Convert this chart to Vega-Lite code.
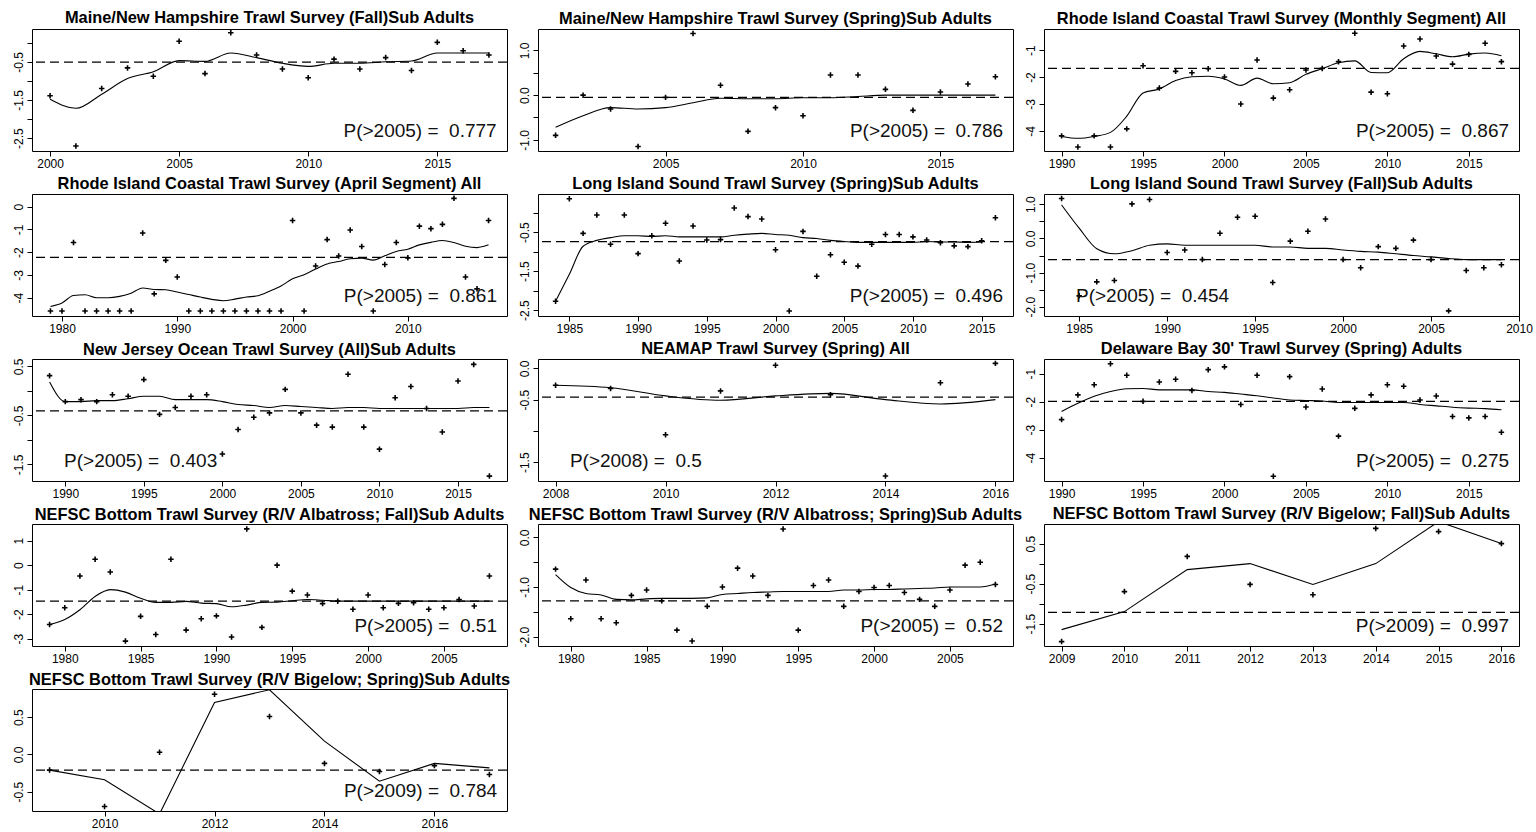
{
"$schema": "https://vega.github.io/schema/vega-lite/v6.json",
"background": "white",
"padding": {"left": 11, "top": 9, "right": 5, "bottom": 5},
"columns": 3,
"spacing": {"row": 43, "column": 31},
"bounds": "flush",
"datasets": {
"obs": [
{"p":1,"yr":2000,"o":-1.39,"f":-1.48},{"p":1,"yr":2001,"o":-2.71,"f":-1.72},{"p":1,"yr":2002,"o":-1.20,"f":-1.35},{"p":1,"yr":2003,"o":-0.66,"f":-0.94},{"p":1,"yr":2004,"o":-0.88,"f":-0.76},{"p":1,"yr":2005,"o":0.04,"f":-0.47},{"p":1,"yr":2006,"o":-0.81,"f":-0.49},{"p":1,"yr":2007,"o":0.26,"f":-0.27},{"p":1,"yr":2008,"o":-0.32,"f":-0.39},{"p":1,"yr":2009,"o":-0.69,"f":-0.54},{"p":1,"yr":2010,"o":-0.92,"f":-0.62},{"p":1,"yr":2011,"o":-0.43,"f":-0.54},{"p":1,"yr":2012,"o":-0.69,"f":-0.54},{"p":1,"yr":2013,"o":-0.39,"f":-0.50},{"p":1,"yr":2014,"o":-0.73,"f":-0.48},{"p":1,"yr":2015,"o":0.01,"f":-0.27},{"p":1,"yr":2016,"o":-0.21,"f":-0.27},{"p":1,"yr":2017,"o":-0.32,"f":-0.27},
{"p":2,"yr":2001,"o":-0.90,"f":-0.72},{"p":2,"yr":2002,"o":0.00,"f":-0.46},{"p":2,"yr":2003,"o":-0.31,"f":-0.28},{"p":2,"yr":2004,"o":-1.15,"f":-0.31},{"p":2,"yr":2005,"o":-0.05,"f":-0.28},{"p":2,"yr":2006,"o":1.38,"f":-0.17},{"p":2,"yr":2007,"o":0.22,"f":-0.07},{"p":2,"yr":2008,"o":-0.81,"f":-0.08},{"p":2,"yr":2009,"o":-0.28,"f":-0.08},{"p":2,"yr":2010,"o":-0.46,"f":-0.06},{"p":2,"yr":2011,"o":0.45,"f":-0.06},{"p":2,"yr":2012,"o":0.45,"f":-0.03},{"p":2,"yr":2013,"o":0.13,"f":0.0},{"p":2,"yr":2014,"o":-0.34,"f":0.0},{"p":2,"yr":2015,"o":0.07,"f":0.0},{"p":2,"yr":2016,"o":0.25,"f":0.0},{"p":2,"yr":2017,"o":0.41,"f":0.0},
{"p":3,"yr":1990,"o":-4.18,"f":-4.20},{"p":3,"yr":1991,"o":-4.59,"f":-4.27},{"p":3,"yr":1992,"o":-4.18,"f":-4.20},{"p":3,"yr":1993,"o":-4.59,"f":-4.05},{"p":3,"yr":1994,"o":-3.92,"f":-3.45},{"p":3,"yr":1995,"o":-1.58,"f":-2.59},{"p":3,"yr":1996,"o":-2.41,"f":-2.44},{"p":3,"yr":1997,"o":-1.79,"f":-2.13},{"p":3,"yr":1998,"o":-1.84,"f":-1.99},{"p":3,"yr":1999,"o":-1.69,"f":-1.97},{"p":3,"yr":2000,"o":-2.00,"f":-2.07},{"p":3,"yr":2001,"o":-3.00,"f":-2.31},{"p":3,"yr":2002,"o":-1.37,"f":-2.04},{"p":3,"yr":2003,"o":-2.78,"f":-2.25},{"p":3,"yr":2004,"o":-2.47,"f":-2.21},{"p":3,"yr":2005,"o":-1.74,"f":-1.90},{"p":3,"yr":2006,"o":-1.68,"f":-1.69},{"p":3,"yr":2007,"o":-1.43,"f":-1.47},{"p":3,"yr":2008,"o":-0.38,"f":-1.40},{"p":3,"yr":2009,"o":-2.56,"f":-1.83},{"p":3,"yr":2010,"o":-2.62,"f":-1.84},{"p":3,"yr":2011,"o":-0.85,"f":-1.32},{"p":3,"yr":2012,"o":-0.59,"f":-1.05},{"p":3,"yr":2013,"o":-1.22,"f":-1.14},{"p":3,"yr":2014,"o":-1.52,"f":-1.25},{"p":3,"yr":2015,"o":-1.16,"f":-1.15},{"p":3,"yr":2016,"o":-0.75,"f":-1.11},{"p":3,"yr":2017,"o":-1.43,"f":-1.21},
{"p":4,"yr":1979,"o":-4.58,"f":-4.38},{"p":4,"yr":1980,"o":-4.58,"f":-4.23},{"p":4,"yr":1981,"o":-1.58,"f":-3.90},{"p":4,"yr":1982,"o":-4.58,"f":-3.87},{"p":4,"yr":1983,"o":-4.58,"f":-4.00},{"p":4,"yr":1984,"o":-4.58,"f":-4.00},{"p":4,"yr":1985,"o":-4.58,"f":-3.94},{"p":4,"yr":1986,"o":-4.58,"f":-3.80},{"p":4,"yr":1987,"o":-1.16,"f":-3.57},{"p":4,"yr":1988,"o":-3.83,"f":-3.64},{"p":4,"yr":1989,"o":-2.36,"f":-3.65},{"p":4,"yr":1990,"o":-3.09,"f":-3.75},{"p":4,"yr":1991,"o":-4.58,"f":-3.86},{"p":4,"yr":1992,"o":-4.58,"f":-3.97},{"p":4,"yr":1993,"o":-4.58,"f":-4.07},{"p":4,"yr":1994,"o":-4.58,"f":-4.13},{"p":4,"yr":1995,"o":-4.58,"f":-4.06},{"p":4,"yr":1996,"o":-4.58,"f":-3.97},{"p":4,"yr":1997,"o":-4.58,"f":-3.91},{"p":4,"yr":1998,"o":-4.58,"f":-3.71},{"p":4,"yr":1999,"o":-4.58,"f":-3.48},{"p":4,"yr":2000,"o":-0.61,"f":-3.17},{"p":4,"yr":2001,"o":-4.58,"f":-2.99},{"p":4,"yr":2002,"o":-2.61,"f":-2.74},{"p":4,"yr":2003,"o":-1.45,"f":-2.52},{"p":4,"yr":2004,"o":-2.17,"f":-2.41},{"p":4,"yr":2005,"o":-1.03,"f":-2.29},{"p":4,"yr":2006,"o":-1.75,"f":-2.26},{"p":4,"yr":2007,"o":-4.58,"f":-2.35},{"p":4,"yr":2008,"o":-2.54,"f":-2.16},{"p":4,"yr":2009,"o":-1.58,"f":-1.97},{"p":4,"yr":2010,"o":-2.25,"f":-1.87},{"p":4,"yr":2011,"o":-0.86,"f":-1.68},{"p":4,"yr":2012,"o":-0.97,"f":-1.57},{"p":4,"yr":2013,"o":-0.78,"f":-1.49},{"p":4,"yr":2014,"o":0.36,"f":-1.58},{"p":4,"yr":2015,"o":-3.09,"f":-1.74},{"p":4,"yr":2016,"o":-3.61,"f":-1.80},{"p":4,"yr":2017,"o":-0.61,"f":-1.68},
{"p":5,"yr":1984,"o":-2.27,"f":-2.27},{"p":5,"yr":1985,"o":0.36,"f":-1.58},{"p":5,"yr":1986,"o":-0.53,"f":-0.86},{"p":5,"yr":1987,"o":-0.06,"f":-0.71},{"p":5,"yr":1988,"o":-0.81,"f":-0.64},{"p":5,"yr":1989,"o":-0.06,"f":-0.59},{"p":5,"yr":1990,"o":-1.05,"f":-0.59},{"p":5,"yr":1991,"o":-0.59,"f":-0.61},{"p":5,"yr":1992,"o":-0.27,"f":-0.59},{"p":5,"yr":1993,"o":-1.24,"f":-0.62},{"p":5,"yr":1994,"o":-0.34,"f":-0.62},{"p":5,"yr":1995,"o":-0.70,"f":-0.62},{"p":5,"yr":1996,"o":-0.69,"f":-0.62},{"p":5,"yr":1997,"o":0.12,"f":-0.58},{"p":5,"yr":1998,"o":-0.10,"f":-0.55},{"p":5,"yr":1999,"o":-0.16,"f":-0.53},{"p":5,"yr":2000,"o":-0.95,"f":-0.56},{"p":5,"yr":2001,"o":-2.52,"f":-0.58},{"p":5,"yr":2002,"o":-0.48,"f":-0.64},{"p":5,"yr":2003,"o":-1.63,"f":-0.66},{"p":5,"yr":2004,"o":-1.08,"f":-0.71},{"p":5,"yr":2005,"o":-1.27,"f":-0.74},{"p":5,"yr":2006,"o":-1.37,"f":-0.76},{"p":5,"yr":2007,"o":-0.81,"f":-0.76},{"p":5,"yr":2008,"o":-0.56,"f":-0.76},{"p":5,"yr":2009,"o":-0.56,"f":-0.76},{"p":5,"yr":2010,"o":-0.62,"f":-0.76},{"p":5,"yr":2011,"o":-0.70,"f":-0.74},{"p":5,"yr":2012,"o":-0.77,"f":-0.75},{"p":5,"yr":2013,"o":-0.85,"f":-0.75},{"p":5,"yr":2014,"o":-0.87,"f":-0.76},{"p":5,"yr":2015,"o":-0.72,"f":-0.75},{"p":5,"yr":2016,"o":-0.13,"f":null},
{"p":6,"yr":1984,"o":1.17,"f":0.98},{"p":6,"yr":1985,"o":-1.68,"f":0.30},{"p":6,"yr":1986,"o":-1.27,"f":-0.30},{"p":6,"yr":1987,"o":-1.23,"f":-0.45},{"p":6,"yr":1988,"o":1.01,"f":-0.36},{"p":6,"yr":1989,"o":1.14,"f":-0.20},{"p":6,"yr":1990,"o":-0.41,"f":-0.16},{"p":6,"yr":1991,"o":-0.34,"f":-0.20},{"p":6,"yr":1992,"o":-0.62,"f":-0.20},{"p":6,"yr":1993,"o":0.15,"f":-0.20},{"p":6,"yr":1994,"o":0.62,"f":-0.20},{"p":6,"yr":1995,"o":0.65,"f":-0.20},{"p":6,"yr":1996,"o":-1.29,"f":-0.25},{"p":6,"yr":1997,"o":-0.08,"f":-0.25},{"p":6,"yr":1998,"o":0.21,"f":-0.29},{"p":6,"yr":1999,"o":0.57,"f":-0.29},{"p":6,"yr":2000,"o":-0.62,"f":-0.34},{"p":6,"yr":2001,"o":-0.86,"f":-0.38},{"p":6,"yr":2002,"o":-0.24,"f":-0.40},{"p":6,"yr":2003,"o":-0.29,"f":-0.45},{"p":6,"yr":2004,"o":-0.05,"f":-0.50},{"p":6,"yr":2005,"o":-0.62,"f":-0.54},{"p":6,"yr":2006,"o":-2.12,"f":-0.59},{"p":6,"yr":2007,"o":-0.94,"f":-0.62},{"p":6,"yr":2008,"o":-0.86,"f":-0.62},{"p":6,"yr":2009,"o":-0.77,"f":-0.62},
{"p":7,"yr":1989,"o":0.31,"f":0.18},{"p":7,"yr":1990,"o":-0.22,"f":-0.22},{"p":7,"yr":1991,"o":-0.18,"f":-0.22},{"p":7,"yr":1992,"o":-0.22,"f":-0.20},{"p":7,"yr":1993,"o":-0.08,"f":-0.20},{"p":7,"yr":1994,"o":-0.11,"f":-0.16},{"p":7,"yr":1995,"o":0.23,"f":-0.11},{"p":7,"yr":1996,"o":-0.48,"f":-0.11},{"p":7,"yr":1997,"o":-0.34,"f":-0.18},{"p":7,"yr":1998,"o":-0.11,"f":-0.18},{"p":7,"yr":1999,"o":-0.08,"f":-0.18},{"p":7,"yr":2000,"o":-1.29,"f":-0.22},{"p":7,"yr":2001,"o":-0.79,"f":-0.28},{"p":7,"yr":2002,"o":-0.54,"f":-0.30},{"p":7,"yr":2003,"o":-0.45,"f":-0.34},{"p":7,"yr":2004,"o":0.03,"f":-0.30},{"p":7,"yr":2005,"o":-0.45,"f":-0.32},{"p":7,"yr":2006,"o":-0.70,"f":-0.34},{"p":7,"yr":2007,"o":-0.74,"f":-0.36},{"p":7,"yr":2008,"o":0.34,"f":-0.34},{"p":7,"yr":2009,"o":-0.74,"f":-0.34},{"p":7,"yr":2010,"o":-1.19,"f":-0.36},{"p":7,"yr":2011,"o":-0.14,"f":-0.36},{"p":7,"yr":2012,"o":0.09,"f":-0.36},{"p":7,"yr":2013,"o":-0.36,"f":-0.36},{"p":7,"yr":2014,"o":-0.84,"f":-0.36},{"p":7,"yr":2015,"o":0.20,"f":-0.36},{"p":7,"yr":2016,"o":0.54,"f":-0.34},{"p":7,"yr":2017,"o":-1.74,"f":-0.34},
{"p":8,"yr":2008,"o":-0.27,"f":-0.27},{"p":8,"yr":2009,"o":-0.32,"f":-0.31},{"p":8,"yr":2010,"o":-1.06,"f":-0.44},{"p":8,"yr":2011,"o":-0.36,"f":-0.51},{"p":8,"yr":2012,"o":0.05,"f":-0.44},{"p":8,"yr":2013,"o":-0.42,"f":-0.40},{"p":8,"yr":2014,"o":-1.72,"f":-0.50},{"p":8,"yr":2015,"o":-0.23,"f":-0.57},{"p":8,"yr":2016,"o":0.08,"f":-0.50},
{"p":9,"yr":1990,"o":-2.64,"f":-2.35},{"p":9,"yr":1991,"o":-1.76,"f":-2.06},{"p":9,"yr":1992,"o":-1.40,"f":-1.81},{"p":9,"yr":1993,"o":-0.65,"f":-1.64},{"p":9,"yr":1994,"o":-1.06,"f":-1.54},{"p":9,"yr":1995,"o":-1.99,"f":-1.53},{"p":9,"yr":1996,"o":-1.30,"f":-1.58},{"p":9,"yr":1997,"o":-1.20,"f":-1.58},{"p":9,"yr":1998,"o":-1.60,"f":-1.58},{"p":9,"yr":1999,"o":-0.86,"f":-1.64},{"p":9,"yr":2000,"o":-0.76,"f":-1.67},{"p":9,"yr":2001,"o":-2.10,"f":-1.73},{"p":9,"yr":2002,"o":-1.06,"f":-1.79},{"p":9,"yr":2003,"o":-4.66,"f":-1.87},{"p":9,"yr":2004,"o":-1.11,"f":-1.94},{"p":9,"yr":2005,"o":-2.19,"f":-1.96},{"p":9,"yr":2006,"o":-1.55,"f":-1.98},{"p":9,"yr":2007,"o":-3.23,"f":-2.03},{"p":9,"yr":2008,"o":-2.24,"f":-2.03},{"p":9,"yr":2009,"o":-1.76,"f":-2.03},{"p":9,"yr":2010,"o":-1.40,"f":-2.03},{"p":9,"yr":2011,"o":-1.45,"f":-2.03},{"p":9,"yr":2012,"o":-1.94,"f":-2.10},{"p":9,"yr":2013,"o":-1.80,"f":-2.15},{"p":9,"yr":2014,"o":-2.53,"f":-2.20},{"p":9,"yr":2015,"o":-2.58,"f":-2.23},{"p":9,"yr":2016,"o":-2.53,"f":-2.25},{"p":9,"yr":2017,"o":-3.09,"f":-2.29},
{"p":10,"yr":1979,"o":-2.42,"f":-2.42},{"p":10,"yr":1980,"o":-1.74,"f":-2.22},{"p":10,"yr":1981,"o":-0.44,"f":-1.82},{"p":10,"yr":1982,"o":0.24,"f":-1.28},{"p":10,"yr":1983,"o":-0.28,"f":-1.00},{"p":10,"yr":1984,"o":-3.10,"f":-1.10},{"p":10,"yr":1985,"o":-2.09,"f":-1.35},{"p":10,"yr":1986,"o":-2.83,"f":-1.52},{"p":10,"yr":1987,"o":0.24,"f":-1.52},{"p":10,"yr":1988,"o":-2.65,"f":-1.48},{"p":10,"yr":1989,"o":-2.19,"f":-1.55},{"p":10,"yr":1990,"o":-2.07,"f":-1.57},{"p":10,"yr":1991,"o":-2.93,"f":-1.70},{"p":10,"yr":1992,"o":1.48,"f":-1.63},{"p":10,"yr":1993,"o":-2.54,"f":-1.52},{"p":10,"yr":1994,"o":0.00,"f":-1.51},{"p":10,"yr":1995,"o":-1.06,"f":-1.45},{"p":10,"yr":1996,"o":-1.22,"f":-1.40},{"p":10,"yr":1997,"o":-1.57,"f":-1.43},{"p":10,"yr":1998,"o":-1.47,"f":-1.47},{"p":10,"yr":1999,"o":-1.80,"f":-1.47},{"p":10,"yr":2000,"o":-1.22,"f":-1.47},{"p":10,"yr":2001,"o":-1.74,"f":-1.47},{"p":10,"yr":2002,"o":-1.56,"f":-1.47},{"p":10,"yr":2003,"o":-1.53,"f":-1.47},{"p":10,"yr":2004,"o":-1.80,"f":-1.47},{"p":10,"yr":2005,"o":-1.74,"f":-1.47},{"p":10,"yr":2006,"o":-1.40,"f":-1.47},{"p":10,"yr":2007,"o":-1.67,"f":-1.47},{"p":10,"yr":2008,"o":-0.44,"f":-1.47},
{"p":11,"yr":1979,"o":-0.64,"f":-0.75},{"p":11,"yr":1980,"o":-1.64,"f":-1.01},{"p":11,"yr":1981,"o":-0.86,"f":-1.13},{"p":11,"yr":1982,"o":-1.64,"f":-1.16},{"p":11,"yr":1983,"o":-1.72,"f":-1.25},{"p":11,"yr":1984,"o":-1.17,"f":-1.26},{"p":11,"yr":1985,"o":-1.06,"f":-1.24},{"p":11,"yr":1986,"o":-1.28,"f":-1.23},{"p":11,"yr":1987,"o":-1.87,"f":-1.23},{"p":11,"yr":1988,"o":-2.09,"f":-1.23},{"p":11,"yr":1989,"o":-1.39,"f":-1.22},{"p":11,"yr":1990,"o":-1.00,"f":-1.15},{"p":11,"yr":1991,"o":-0.62,"f":-1.13},{"p":11,"yr":1992,"o":-0.78,"f":-1.11},{"p":11,"yr":1993,"o":-1.17,"f":-1.10},{"p":11,"yr":1994,"o":0.17,"f":-1.09},{"p":11,"yr":1995,"o":-1.87,"f":-1.09},{"p":11,"yr":1996,"o":-0.97,"f":-1.09},{"p":11,"yr":1997,"o":-0.86,"f":-1.09},{"p":11,"yr":1998,"o":-1.39,"f":-1.06},{"p":11,"yr":1999,"o":-1.09,"f":-1.06},{"p":11,"yr":2000,"o":-1.01,"f":-1.05},{"p":11,"yr":2001,"o":-0.97,"f":-1.05},{"p":11,"yr":2002,"o":-1.11,"f":-1.04},{"p":11,"yr":2003,"o":-1.25,"f":-1.03},{"p":11,"yr":2004,"o":-1.39,"f":-1.02},{"p":11,"yr":2005,"o":-1.06,"f":-1.00},{"p":11,"yr":2006,"o":-0.56,"f":-1.00},{"p":11,"yr":2007,"o":-0.50,"f":-1.00},{"p":11,"yr":2008,"o":-0.95,"f":-0.94},
{"p":12,"yr":2009,"o":-1.95,"f":-1.65},{"p":12,"yr":2010,"o":-0.70,"f":-1.20},{"p":12,"yr":2011,"o":0.18,"f":-0.15},{"p":12,"yr":2012,"o":-0.52,"f":0.0},{"p":12,"yr":2013,"o":-0.78,"f":-0.52},{"p":12,"yr":2014,"o":0.88,"f":0.0},{"p":12,"yr":2015,"o":0.80,"f":1.05},{"p":12,"yr":2016,"o":0.50,"f":0.50},
{"p":13,"yr":2009,"o":-0.21,"f":-0.21},{"p":13,"yr":2010,"o":-0.70,"f":-0.34},{"p":13,"yr":2011,"o":0.03,"f":-0.80},{"p":13,"yr":2012,"o":0.81,"f":0.70},{"p":13,"yr":2013,"o":0.51,"f":0.87},{"p":13,"yr":2014,"o":-0.12,"f":0.18},{"p":13,"yr":2015,"o":-0.23,"f":-0.36},{"p":13,"yr":2016,"o":-0.15,"f":-0.12},{"p":13,"yr":2017,"o":-0.27,"f":-0.18}
],
"ref": [
{"p":1,"h":-0.51,"note":"P(>2005) =\u00a0 0.777"},
{"p":2,"h":-0.05,"note":"P(>2005) =\u00a0 0.786"},
{"p":3,"h":-1.68,"note":"P(>2005) =\u00a0 0.867"},
{"p":4,"h":-2.23,"note":"P(>2005) =\u00a0 0.861"},
{"p":5,"h":-0.74,"note":"P(>2005) =\u00a0 0.496"},
{"p":6,"h":-0.62,"note":"P(>2005) =\u00a0 0.454"},
{"p":7,"h":-0.41,"note":"P(>2005) =\u00a0 0.403"},
{"p":8,"h":-0.46,"note":"P(>2008) =\u00a0 0.5"},
{"p":9,"h":-1.99,"note":"P(>2005) =\u00a0 0.275"},
{"p":10,"h":-1.47,"note":"P(>2005) =\u00a0 0.51"},
{"p":11,"h":-1.28,"note":"P(>2005) =\u00a0 0.52"},
{"p":12,"h":-1.22,"note":"P(>2009) =\u00a0 0.997"},
{"p":13,"h":-0.21,"note":"P(>2009) =\u00a0 0.784"}
]
},
"concat": [
{"title":"Maine/New Hampshire Trawl Survey (Fall)Sub Adults","width":475,"height":122,"layer":[
{"data":{"name":"obs"},"transform":[{"filter":"datum.p==1"}],"mark":{"type":"line","clip":true,"color":"#000","strokeWidth":1.1,"interpolate":"monotone"},
"encoding":{"x":{"field":"yr","type":"quantitative","title":null,"scale":{"domain":[1999.3,2017.7],"nice":false,"zero":false},"axis":{"values":[2000,2005,2010,2015],"tickCount":30,"format":"d","labelOverlap":false}},
"y":{"field":"f","type":"quantitative","title":null,"scale":{"domain":[-2.84,0.36],"nice":false,"zero":false},"axis":{"values":[-2.5,-2,-1.5,-1,-0.5,0],"tickCount":30,"format":".1f","labelOverlap":false,"labelExpr":"indexof([-0.5,-1.5,-2.5], datum.value) >= 0 ? replace(datum.label, '−', '-') : ''"}}}},
{"data":{"name":"obs"},"transform":[{"filter":"datum.p==1"}],"mark":{"type":"point","shape":"M-1,0H1M0,-1V1","size":30,"filled":false,"color":"#000","strokeWidth":1.6,"opacity":1},
"encoding":{"x":{"field":"yr","type":"quantitative","title":null,"scale":{"domain":[1999.3,2017.7],"nice":false,"zero":false}},"y":{"field":"o","type":"quantitative","title":null,"scale":{"domain":[-2.84,0.36],"nice":false,"zero":false}}}},
{"data":{"name":"ref"},"transform":[{"filter":"datum.p==1"}],"mark":{"type":"rule","strokeDash":[9,5],"strokeWidth":1.3,"color":"#000"},
"encoding":{"y":{"field":"h","type":"quantitative","title":null,"scale":{"domain":[-2.84,0.36],"nice":false,"zero":false}}}},
{"data":{"name":"ref"},"transform":[{"filter":"datum.p==1"}],"mark":{"type":"text","align":"right","baseline":"alphabetic","fontSize":19,"font":"Liberation Sans","color":"#111"},
"encoding":{"x":{"datum":2017.3,"type":"quantitative","title":null,"scale":{"domain":[1999.3,2017.7],"nice":false,"zero":false}},"y":{"datum":-2.47,"type":"quantitative","title":null,"scale":{"domain":[-2.84,0.36],"nice":false,"zero":false}},"text":{"field":"note"}}}
]},
{"title":"Maine/New Hampshire Trawl Survey (Spring)Sub Adults","width":475,"height":122,"layer":[
{"data":{"name":"obs"},"transform":[{"filter":"datum.p==2"}],"mark":{"type":"line","clip":true,"color":"#000","strokeWidth":1.1,"interpolate":"monotone"},
"encoding":{"x":{"field":"yr","type":"quantitative","title":null,"scale":{"domain":[2000.36,2017.64],"nice":false,"zero":false},"axis":{"values":[2005,2010,2015],"tickCount":30,"format":"d","labelOverlap":false}},
"y":{"field":"f","type":"quantitative","title":null,"scale":{"domain":[-1.25,1.48],"nice":false,"zero":false},"axis":{"values":[-1,-0.5,0,0.5,1],"tickCount":30,"format":".1f","labelOverlap":false,"labelExpr":"indexof([-1,0,1], datum.value) >= 0 ? replace(datum.label, '−', '-') : ''"}}}},
{"data":{"name":"obs"},"transform":[{"filter":"datum.p==2"}],"mark":{"type":"point","shape":"M-1,0H1M0,-1V1","size":30,"filled":false,"color":"#000","strokeWidth":1.6,"opacity":1},
"encoding":{"x":{"field":"yr","type":"quantitative","title":null,"scale":{"domain":[2000.36,2017.64],"nice":false,"zero":false}},"y":{"field":"o","type":"quantitative","title":null,"scale":{"domain":[-1.25,1.48],"nice":false,"zero":false}}}},
{"data":{"name":"ref"},"transform":[{"filter":"datum.p==2"}],"mark":{"type":"rule","strokeDash":[9,5],"strokeWidth":1.3,"color":"#000"},
"encoding":{"y":{"field":"h","type":"quantitative","title":null,"scale":{"domain":[-1.25,1.48],"nice":false,"zero":false}}}},
{"data":{"name":"ref"},"transform":[{"filter":"datum.p==2"}],"mark":{"type":"text","align":"right","baseline":"alphabetic","fontSize":19,"font":"Liberation Sans","color":"#111"},
"encoding":{"x":{"datum":2017.28,"type":"quantitative","title":null,"scale":{"domain":[2000.36,2017.64],"nice":false,"zero":false}},"y":{"datum":-0.94,"type":"quantitative","title":null,"scale":{"domain":[-1.25,1.48],"nice":false,"zero":false}},"text":{"field":"note"}}}
]},
{"title":"Rhode Island Coastal Trawl Survey (Monthly Segment) All","width":475,"height":122,"layer":[
{"data":{"name":"obs"},"transform":[{"filter":"datum.p==3"}],"mark":{"type":"line","clip":true,"color":"#000","strokeWidth":1.1,"interpolate":"monotone"},
"encoding":{"x":{"field":"yr","type":"quantitative","title":null,"scale":{"domain":[1988.92,2018.08],"nice":false,"zero":false},"axis":{"values":[1990,1995,2000,2005,2010,2015],"tickCount":30,"format":"d","labelOverlap":false}},
"y":{"field":"f","type":"quantitative","title":null,"scale":{"domain":[-4.74,-0.22],"nice":false,"zero":false},"axis":{"values":[-4,-3,-2,-1],"tickCount":30,"format":"d","labelOverlap":false,"labelExpr":"replace(datum.label, '−', '-')"}}}},
{"data":{"name":"obs"},"transform":[{"filter":"datum.p==3"}],"mark":{"type":"point","shape":"M-1,0H1M0,-1V1","size":30,"filled":false,"color":"#000","strokeWidth":1.6,"opacity":1},
"encoding":{"x":{"field":"yr","type":"quantitative","title":null,"scale":{"domain":[1988.92,2018.08],"nice":false,"zero":false}},"y":{"field":"o","type":"quantitative","title":null,"scale":{"domain":[-4.74,-0.22],"nice":false,"zero":false}}}},
{"data":{"name":"ref"},"transform":[{"filter":"datum.p==3"}],"mark":{"type":"rule","strokeDash":[9,5],"strokeWidth":1.3,"color":"#000"},
"encoding":{"y":{"field":"h","type":"quantitative","title":null,"scale":{"domain":[-4.74,-0.22],"nice":false,"zero":false}}}},
{"data":{"name":"ref"},"transform":[{"filter":"datum.p==3"}],"mark":{"type":"text","align":"right","baseline":"alphabetic","fontSize":19,"font":"Liberation Sans","color":"#111"},
"encoding":{"x":{"datum":2017.47,"type":"quantitative","title":null,"scale":{"domain":[1988.92,2018.08],"nice":false,"zero":false}},"y":{"datum":-4.22,"type":"quantitative","title":null,"scale":{"domain":[-4.74,-0.22],"nice":false,"zero":false}},"text":{"field":"note"}}}
]},
{"title":"Rhode Island Coastal Trawl Survey (April Segment) All","width":475,"height":122,"layer":[
{"data":{"name":"obs"},"transform":[{"filter":"datum.p==4"}],"mark":{"type":"line","clip":true,"color":"#000","strokeWidth":1.1,"interpolate":"monotone"},
"encoding":{"x":{"field":"yr","type":"quantitative","title":null,"scale":{"domain":[1977.4,2018.6],"nice":false,"zero":false},"axis":{"values":[1980,1990,2000,2010],"tickCount":30,"format":"d","labelOverlap":false}},
"y":{"field":"f","type":"quantitative","title":null,"scale":{"domain":[-4.8,0.55],"nice":false,"zero":false},"axis":{"values":[-4,-3,-2,-1,0],"tickCount":30,"format":"d","labelOverlap":false,"labelExpr":"replace(datum.label, '−', '-')"}}}},
{"data":{"name":"obs"},"transform":[{"filter":"datum.p==4"}],"mark":{"type":"point","shape":"M-1,0H1M0,-1V1","size":30,"filled":false,"color":"#000","strokeWidth":1.6,"opacity":1},
"encoding":{"x":{"field":"yr","type":"quantitative","title":null,"scale":{"domain":[1977.4,2018.6],"nice":false,"zero":false}},"y":{"field":"o","type":"quantitative","title":null,"scale":{"domain":[-4.8,0.55],"nice":false,"zero":false}}}},
{"data":{"name":"ref"},"transform":[{"filter":"datum.p==4"}],"mark":{"type":"rule","strokeDash":[9,5],"strokeWidth":1.3,"color":"#000"},
"encoding":{"y":{"field":"h","type":"quantitative","title":null,"scale":{"domain":[-4.8,0.55],"nice":false,"zero":false}}}},
{"data":{"name":"ref"},"transform":[{"filter":"datum.p==4"}],"mark":{"type":"text","align":"right","baseline":"alphabetic","fontSize":19,"font":"Liberation Sans","color":"#111"},
"encoding":{"x":{"datum":2017.73,"type":"quantitative","title":null,"scale":{"domain":[1977.4,2018.6],"nice":false,"zero":false}},"y":{"datum":-4.19,"type":"quantitative","title":null,"scale":{"domain":[-4.8,0.55],"nice":false,"zero":false}},"text":{"field":"note"}}}
]},
{"title":"Long Island Sound Trawl Survey (Spring)Sub Adults","width":475,"height":122,"layer":[
{"data":{"name":"obs"},"transform":[{"filter":"datum.p==5"}],"mark":{"type":"line","clip":true,"color":"#000","strokeWidth":1.1,"interpolate":"monotone"},
"encoding":{"x":{"field":"yr","type":"quantitative","title":null,"scale":{"domain":[1982.72,2017.28],"nice":false,"zero":false},"axis":{"values":[1985,1990,1995,2000,2005,2010,2015],"tickCount":30,"format":"d","labelOverlap":false}},
"y":{"field":"f","type":"quantitative","title":null,"scale":{"domain":[-2.65,0.48],"nice":false,"zero":false},"axis":{"values":[-2.5,-2,-1.5,-1,-0.5,0],"tickCount":30,"format":".1f","labelOverlap":false,"labelExpr":"indexof([-0.5,-1.5,-2.5], datum.value) >= 0 ? replace(datum.label, '−', '-') : ''"}}}},
{"data":{"name":"obs"},"transform":[{"filter":"datum.p==5"}],"mark":{"type":"point","shape":"M-1,0H1M0,-1V1","size":30,"filled":false,"color":"#000","strokeWidth":1.6,"opacity":1},
"encoding":{"x":{"field":"yr","type":"quantitative","title":null,"scale":{"domain":[1982.72,2017.28],"nice":false,"zero":false}},"y":{"field":"o","type":"quantitative","title":null,"scale":{"domain":[-2.65,0.48],"nice":false,"zero":false}}}},
{"data":{"name":"ref"},"transform":[{"filter":"datum.p==5"}],"mark":{"type":"rule","strokeDash":[9,5],"strokeWidth":1.3,"color":"#000"},
"encoding":{"y":{"field":"h","type":"quantitative","title":null,"scale":{"domain":[-2.65,0.48],"nice":false,"zero":false}}}},
{"data":{"name":"ref"},"transform":[{"filter":"datum.p==5"}],"mark":{"type":"text","align":"right","baseline":"alphabetic","fontSize":19,"font":"Liberation Sans","color":"#111"},
"encoding":{"x":{"datum":2016.55,"type":"quantitative","title":null,"scale":{"domain":[1982.72,2017.28],"nice":false,"zero":false}},"y":{"datum":-2.29,"type":"quantitative","title":null,"scale":{"domain":[-2.65,0.48],"nice":false,"zero":false}},"text":{"field":"note"}}}
]},
{"title":"Long Island Sound Trawl Survey (Fall)Sub Adults","width":475,"height":122,"layer":[
{"data":{"name":"obs"},"transform":[{"filter":"datum.p==6"}],"mark":{"type":"line","clip":true,"color":"#000","strokeWidth":1.1,"interpolate":"monotone"},
"encoding":{"x":{"field":"yr","type":"quantitative","title":null,"scale":{"domain":[1983,2010],"nice":false,"zero":false},"axis":{"values":[1985,1990,1995,2000,2005,2010],"tickCount":30,"format":"d","labelOverlap":false}},
"y":{"field":"f","type":"quantitative","title":null,"scale":{"domain":[-2.27,1.3],"nice":false,"zero":false},"axis":{"values":[-2,-1.5,-1,-0.5,0,0.5,1],"tickCount":30,"format":".1f","labelOverlap":false,"labelExpr":"indexof([-2,-1,0,1], datum.value) >= 0 ? replace(datum.label, '−', '-') : ''"}}}},
{"data":{"name":"obs"},"transform":[{"filter":"datum.p==6"}],"mark":{"type":"point","shape":"M-1,0H1M0,-1V1","size":30,"filled":false,"color":"#000","strokeWidth":1.6,"opacity":1},
"encoding":{"x":{"field":"yr","type":"quantitative","title":null,"scale":{"domain":[1983,2010],"nice":false,"zero":false}},"y":{"field":"o","type":"quantitative","title":null,"scale":{"domain":[-2.27,1.3],"nice":false,"zero":false}}}},
{"data":{"name":"ref"},"transform":[{"filter":"datum.p==6"}],"mark":{"type":"rule","strokeDash":[9,5],"strokeWidth":1.3,"color":"#000"},
"encoding":{"y":{"field":"h","type":"quantitative","title":null,"scale":{"domain":[-2.27,1.3],"nice":false,"zero":false}}}},
{"data":{"name":"ref"},"transform":[{"filter":"datum.p==6"}],"mark":{"type":"text","align":"left","baseline":"alphabetic","fontSize":19,"font":"Liberation Sans","color":"#111"},
"encoding":{"x":{"datum":1984.82,"type":"quantitative","title":null,"scale":{"domain":[1983,2010],"nice":false,"zero":false}},"y":{"datum":-1.86,"type":"quantitative","title":null,"scale":{"domain":[-2.27,1.3],"nice":false,"zero":false}},"text":{"field":"note"}}}
]},
{"title":"New Jersey Ocean Trawl Survey (All)Sub Adults","width":475,"height":122,"layer":[
{"data":{"name":"obs"},"transform":[{"filter":"datum.p==7"}],"mark":{"type":"line","clip":true,"color":"#000","strokeWidth":1.1,"interpolate":"monotone"},
"encoding":{"x":{"field":"yr","type":"quantitative","title":null,"scale":{"domain":[1987.88,2018.12],"nice":false,"zero":false},"axis":{"values":[1990,1995,2000,2005,2010,2015],"tickCount":30,"format":"d","labelOverlap":false}},
"y":{"field":"f","type":"quantitative","title":null,"scale":{"domain":[-1.84,0.65],"nice":false,"zero":false},"axis":{"values":[-1.5,-1,-0.5,0,0.5],"tickCount":30,"format":".1f","labelOverlap":false,"labelExpr":"indexof([-1.5,-0.5,0.5], datum.value) >= 0 ? replace(datum.label, '−', '-') : ''"}}}},
{"data":{"name":"obs"},"transform":[{"filter":"datum.p==7"}],"mark":{"type":"point","shape":"M-1,0H1M0,-1V1","size":30,"filled":false,"color":"#000","strokeWidth":1.6,"opacity":1},
"encoding":{"x":{"field":"yr","type":"quantitative","title":null,"scale":{"domain":[1987.88,2018.12],"nice":false,"zero":false}},"y":{"field":"o","type":"quantitative","title":null,"scale":{"domain":[-1.84,0.65],"nice":false,"zero":false}}}},
{"data":{"name":"ref"},"transform":[{"filter":"datum.p==7"}],"mark":{"type":"rule","strokeDash":[9,5],"strokeWidth":1.3,"color":"#000"},
"encoding":{"y":{"field":"h","type":"quantitative","title":null,"scale":{"domain":[-1.84,0.65],"nice":false,"zero":false}}}},
{"data":{"name":"ref"},"transform":[{"filter":"datum.p==7"}],"mark":{"type":"text","align":"left","baseline":"alphabetic","fontSize":19,"font":"Liberation Sans","color":"#111"},
"encoding":{"x":{"datum":1989.92,"type":"quantitative","title":null,"scale":{"domain":[1987.88,2018.12],"nice":false,"zero":false}},"y":{"datum":-1.55,"type":"quantitative","title":null,"scale":{"domain":[-1.84,0.65],"nice":false,"zero":false}},"text":{"field":"note"}}}
]},
{"title":"NEAMAP Trawl Survey (Spring) All","width":475,"height":122,"layer":[
{"data":{"name":"obs"},"transform":[{"filter":"datum.p==8"}],"mark":{"type":"line","clip":true,"color":"#000","strokeWidth":1.1,"interpolate":"monotone"},
"encoding":{"x":{"field":"yr","type":"quantitative","title":null,"scale":{"domain":[2007.68,2016.32],"nice":false,"zero":false},"axis":{"values":[2008,2010,2012,2014,2016],"tickCount":30,"format":"d","labelOverlap":false}},
"y":{"field":"f","type":"quantitative","title":null,"scale":{"domain":[-1.8,0.15],"nice":false,"zero":false},"axis":{"values":[-1.5,-1,-0.5,0],"tickCount":30,"format":".1f","labelOverlap":false,"labelExpr":"indexof([-1.5,-0.5,0], datum.value) >= 0 ? replace(datum.label, '−', '-') : ''"}}}},
{"data":{"name":"obs"},"transform":[{"filter":"datum.p==8"}],"mark":{"type":"point","shape":"M-1,0H1M0,-1V1","size":30,"filled":false,"color":"#000","strokeWidth":1.6,"opacity":1},
"encoding":{"x":{"field":"yr","type":"quantitative","title":null,"scale":{"domain":[2007.68,2016.32],"nice":false,"zero":false}},"y":{"field":"o","type":"quantitative","title":null,"scale":{"domain":[-1.8,0.15],"nice":false,"zero":false}}}},
{"data":{"name":"ref"},"transform":[{"filter":"datum.p==8"}],"mark":{"type":"rule","strokeDash":[9,5],"strokeWidth":1.3,"color":"#000"},
"encoding":{"y":{"field":"h","type":"quantitative","title":null,"scale":{"domain":[-1.8,0.15],"nice":false,"zero":false}}}},
{"data":{"name":"ref"},"transform":[{"filter":"datum.p==8"}],"mark":{"type":"text","align":"left","baseline":"alphabetic","fontSize":19,"font":"Liberation Sans","color":"#111"},
"encoding":{"x":{"datum":2008.26,"type":"quantitative","title":null,"scale":{"domain":[2007.68,2016.32],"nice":false,"zero":false}},"y":{"datum":-1.58,"type":"quantitative","title":null,"scale":{"domain":[-1.8,0.15],"nice":false,"zero":false}},"text":{"field":"note"}}}
]},
{"title":"Delaware Bay 30' Trawl Survey (Spring) Adults","width":475,"height":122,"layer":[
{"data":{"name":"obs"},"transform":[{"filter":"datum.p==9"}],"mark":{"type":"line","clip":true,"color":"#000","strokeWidth":1.1,"interpolate":"monotone"},
"encoding":{"x":{"field":"yr","type":"quantitative","title":null,"scale":{"domain":[1988.92,2018.08],"nice":false,"zero":false},"axis":{"values":[1990,1995,2000,2005,2010,2015],"tickCount":30,"format":"d","labelOverlap":false}},
"y":{"field":"f","type":"quantitative","title":null,"scale":{"domain":[-4.83,-0.48],"nice":false,"zero":false},"axis":{"values":[-4,-3,-2,-1],"tickCount":30,"format":"d","labelOverlap":false,"labelExpr":"replace(datum.label, '−', '-')"}}}},
{"data":{"name":"obs"},"transform":[{"filter":"datum.p==9"}],"mark":{"type":"point","shape":"M-1,0H1M0,-1V1","size":30,"filled":false,"color":"#000","strokeWidth":1.6,"opacity":1},
"encoding":{"x":{"field":"yr","type":"quantitative","title":null,"scale":{"domain":[1988.92,2018.08],"nice":false,"zero":false}},"y":{"field":"o","type":"quantitative","title":null,"scale":{"domain":[-4.83,-0.48],"nice":false,"zero":false}}}},
{"data":{"name":"ref"},"transform":[{"filter":"datum.p==9"}],"mark":{"type":"rule","strokeDash":[9,5],"strokeWidth":1.3,"color":"#000"},
"encoding":{"y":{"field":"h","type":"quantitative","title":null,"scale":{"domain":[-4.83,-0.48],"nice":false,"zero":false}}}},
{"data":{"name":"ref"},"transform":[{"filter":"datum.p==9"}],"mark":{"type":"text","align":"right","baseline":"alphabetic","fontSize":19,"font":"Liberation Sans","color":"#111"},
"encoding":{"x":{"datum":2017.47,"type":"quantitative","title":null,"scale":{"domain":[1988.92,2018.08],"nice":false,"zero":false}},"y":{"datum":-4.33,"type":"quantitative","title":null,"scale":{"domain":[-4.83,-0.48],"nice":false,"zero":false}},"text":{"field":"note"}}}
]},
{"title":"NEFSC Bottom Trawl Survey (R/V Albatross; Fall)Sub Adults","width":475,"height":122,"layer":[
{"data":{"name":"obs"},"transform":[{"filter":"datum.p==10"}],"mark":{"type":"line","clip":true,"color":"#000","strokeWidth":1.1,"interpolate":"monotone"},
"encoding":{"x":{"field":"yr","type":"quantitative","title":null,"scale":{"domain":[1977.84,2009.16],"nice":false,"zero":false},"axis":{"values":[1980,1985,1990,1995,2000,2005],"tickCount":30,"format":"d","labelOverlap":false}},
"y":{"field":"f","type":"quantitative","title":null,"scale":{"domain":[-3.3,1.68],"nice":false,"zero":false},"axis":{"values":[-3,-2,-1,0,1],"tickCount":30,"format":"d","labelOverlap":false,"labelExpr":"replace(datum.label, '−', '-')"}}}},
{"data":{"name":"obs"},"transform":[{"filter":"datum.p==10"}],"mark":{"type":"point","shape":"M-1,0H1M0,-1V1","size":30,"filled":false,"color":"#000","strokeWidth":1.6,"opacity":1},
"encoding":{"x":{"field":"yr","type":"quantitative","title":null,"scale":{"domain":[1977.84,2009.16],"nice":false,"zero":false}},"y":{"field":"o","type":"quantitative","title":null,"scale":{"domain":[-3.3,1.68],"nice":false,"zero":false}}}},
{"data":{"name":"ref"},"transform":[{"filter":"datum.p==10"}],"mark":{"type":"rule","strokeDash":[9,5],"strokeWidth":1.3,"color":"#000"},
"encoding":{"y":{"field":"h","type":"quantitative","title":null,"scale":{"domain":[-3.3,1.68],"nice":false,"zero":false}}}},
{"data":{"name":"ref"},"transform":[{"filter":"datum.p==10"}],"mark":{"type":"text","align":"right","baseline":"alphabetic","fontSize":19,"font":"Liberation Sans","color":"#111"},
"encoding":{"x":{"datum":2008.5,"type":"quantitative","title":null,"scale":{"domain":[1977.84,2009.16],"nice":false,"zero":false}},"y":{"datum":-2.73,"type":"quantitative","title":null,"scale":{"domain":[-3.3,1.68],"nice":false,"zero":false}},"text":{"field":"note"}}}
]},
{"title":"NEFSC Bottom Trawl Survey (R/V Albatross; Spring)Sub Adults","width":475,"height":122,"layer":[
{"data":{"name":"obs"},"transform":[{"filter":"datum.p==11"}],"mark":{"type":"line","clip":true,"color":"#000","strokeWidth":1.1,"interpolate":"monotone"},
"encoding":{"x":{"field":"yr","type":"quantitative","title":null,"scale":{"domain":[1977.84,2009.16],"nice":false,"zero":false},"axis":{"values":[1980,1985,1990,1995,2000,2005],"tickCount":30,"format":"d","labelOverlap":false}},
"y":{"field":"f","type":"quantitative","title":null,"scale":{"domain":[-2.19,0.27],"nice":false,"zero":false},"axis":{"values":[-2,-1.5,-1,-0.5,0],"tickCount":30,"format":".1f","labelOverlap":false,"labelExpr":"indexof([-2,-1,0], datum.value) >= 0 ? replace(datum.label, '−', '-') : ''"}}}},
{"data":{"name":"obs"},"transform":[{"filter":"datum.p==11"}],"mark":{"type":"point","shape":"M-1,0H1M0,-1V1","size":30,"filled":false,"color":"#000","strokeWidth":1.6,"opacity":1},
"encoding":{"x":{"field":"yr","type":"quantitative","title":null,"scale":{"domain":[1977.84,2009.16],"nice":false,"zero":false}},"y":{"field":"o","type":"quantitative","title":null,"scale":{"domain":[-2.19,0.27],"nice":false,"zero":false}}}},
{"data":{"name":"ref"},"transform":[{"filter":"datum.p==11"}],"mark":{"type":"rule","strokeDash":[9,5],"strokeWidth":1.3,"color":"#000"},
"encoding":{"y":{"field":"h","type":"quantitative","title":null,"scale":{"domain":[-2.19,0.27],"nice":false,"zero":false}}}},
{"data":{"name":"ref"},"transform":[{"filter":"datum.p==11"}],"mark":{"type":"text","align":"right","baseline":"alphabetic","fontSize":19,"font":"Liberation Sans","color":"#111"},
"encoding":{"x":{"datum":2008.5,"type":"quantitative","title":null,"scale":{"domain":[1977.84,2009.16],"nice":false,"zero":false}},"y":{"datum":-1.91,"type":"quantitative","title":null,"scale":{"domain":[-2.19,0.27],"nice":false,"zero":false}},"text":{"field":"note"}}}
]},
{"title":"NEFSC Bottom Trawl Survey (R/V Bigelow; Fall)Sub Adults","width":475,"height":122,"layer":[
{"data":{"name":"obs"},"transform":[{"filter":"datum.p==12"}],"mark":{"type":"line","clip":true,"color":"#000","strokeWidth":1.1},
"encoding":{"x":{"field":"yr","type":"quantitative","title":null,"scale":{"domain":[2008.72,2016.28],"nice":false,"zero":false},"axis":{"values":[2009,2010,2011,2012,2013,2014,2015,2016],"tickCount":30,"format":"d","labelOverlap":false}},
"y":{"field":"f","type":"quantitative","title":null,"scale":{"domain":[-2.06,0.99],"nice":false,"zero":false},"axis":{"values":[-1.5,-1,-0.5,0,0.5],"tickCount":30,"format":".1f","labelOverlap":false,"labelExpr":"indexof([-1.5,-0.5,0.5], datum.value) >= 0 ? replace(datum.label, '−', '-') : ''"}}}},
{"data":{"name":"obs"},"transform":[{"filter":"datum.p==12"}],"mark":{"type":"point","shape":"M-1,0H1M0,-1V1","size":30,"filled":false,"color":"#000","strokeWidth":1.6,"opacity":1},
"encoding":{"x":{"field":"yr","type":"quantitative","title":null,"scale":{"domain":[2008.72,2016.28],"nice":false,"zero":false}},"y":{"field":"o","type":"quantitative","title":null,"scale":{"domain":[-2.06,0.99],"nice":false,"zero":false}}}},
{"data":{"name":"ref"},"transform":[{"filter":"datum.p==12"}],"mark":{"type":"rule","strokeDash":[9,5],"strokeWidth":1.3,"color":"#000"},
"encoding":{"y":{"field":"h","type":"quantitative","title":null,"scale":{"domain":[-2.06,0.99],"nice":false,"zero":false}}}},
{"data":{"name":"ref"},"transform":[{"filter":"datum.p==12"}],"mark":{"type":"text","align":"right","baseline":"alphabetic","fontSize":19,"font":"Liberation Sans","color":"#111"},
"encoding":{"x":{"datum":2016.12,"type":"quantitative","title":null,"scale":{"domain":[2008.72,2016.28],"nice":false,"zero":false}},"y":{"datum":-1.71,"type":"quantitative","title":null,"scale":{"domain":[-2.06,0.99],"nice":false,"zero":false}},"text":{"field":"note"}}}
]},
{"title":"NEFSC Bottom Trawl Survey (R/V Bigelow; Spring)Sub Adults","width":475,"height":122,"layer":[
{"data":{"name":"obs"},"transform":[{"filter":"datum.p==13"}],"mark":{"type":"line","clip":true,"color":"#000","strokeWidth":1.1},
"encoding":{"x":{"field":"yr","type":"quantitative","title":null,"scale":{"domain":[2008.68,2017.32],"nice":false,"zero":false},"axis":{"values":[2010,2012,2014,2016],"tickCount":30,"format":"d","labelOverlap":false}},
"y":{"field":"f","type":"quantitative","title":null,"scale":{"domain":[-0.76,0.88],"nice":false,"zero":false},"axis":{"values":[-0.5,0,0.5],"tickCount":30,"format":".1f","labelOverlap":false,"labelExpr":"replace(datum.label, '−', '-')"}}}},
{"data":{"name":"obs"},"transform":[{"filter":"datum.p==13"}],"mark":{"type":"point","shape":"M-1,0H1M0,-1V1","size":30,"filled":false,"color":"#000","strokeWidth":1.6,"opacity":1},
"encoding":{"x":{"field":"yr","type":"quantitative","title":null,"scale":{"domain":[2008.68,2017.32],"nice":false,"zero":false}},"y":{"field":"o","type":"quantitative","title":null,"scale":{"domain":[-0.76,0.88],"nice":false,"zero":false}}}},
{"data":{"name":"ref"},"transform":[{"filter":"datum.p==13"}],"mark":{"type":"rule","strokeDash":[9,5],"strokeWidth":1.3,"color":"#000"},
"encoding":{"y":{"field":"h","type":"quantitative","title":null,"scale":{"domain":[-0.76,0.88],"nice":false,"zero":false}}}},
{"data":{"name":"ref"},"transform":[{"filter":"datum.p==13"}],"mark":{"type":"text","align":"right","baseline":"alphabetic","fontSize":19,"font":"Liberation Sans","color":"#111"},
"encoding":{"x":{"datum":2017.14,"type":"quantitative","title":null,"scale":{"domain":[2008.68,2017.32],"nice":false,"zero":false}},"y":{"datum":-0.57,"type":"quantitative","title":null,"scale":{"domain":[-0.76,0.88],"nice":false,"zero":false}},"text":{"field":"note"}}}
]}
],
"config": {
"view": {"stroke": "#000", "strokeWidth": 1},
"font": "Liberation Sans",
"axis": {"grid": false, "domain": false, "ticks": true, "tickColor": "#000", "tickSize": 5, "tickWidth": 1, "labelColor": "#000", "labelFont": "Liberation Sans", "labelFontSize": 12, "labelPadding": 2, "labelFlush": false, "labelOverlap": false},
"axisY": {"labelAngle": -90, "labelAlign": "center", "labelBaseline": "bottom"},
"title": {"font": "Liberation Sans", "fontSize": 16.4, "fontWeight": "bold", "color": "#000", "anchor": "middle", "frame": "group", "offset": 0, "dy": 4}
}
}
